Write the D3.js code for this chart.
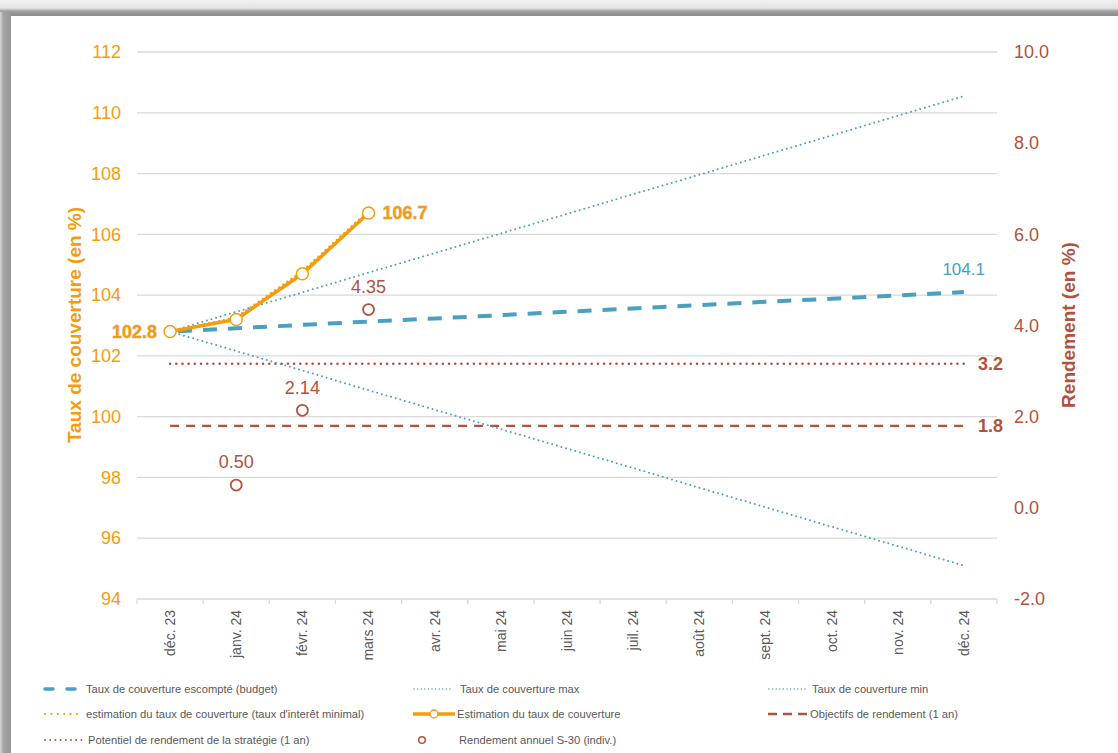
<!DOCTYPE html>
<html><head><meta charset="utf-8">
<script src="https://cdn.jsdelivr.net/npm/d3@7"></script>
<style>
html,body{margin:0;padding:0;background:#fff;}
svg{display:block;font-family:"Liberation Sans",Arial,sans-serif;}
</style></head>
<body>
<svg id="c" width="1118" height="753"></svg>
<script>
// ---- data ----
const months = ["déc. 23","janv. 24","févr. 24","mars 24","avr. 24","mai 24","juin 24","juil. 24","août 24","sept. 24","oct. 24","nov. 24","déc. 24"];
const budget = [102.8,102.91,103.02,103.13,103.23,103.34,103.45,103.56,103.67,103.78,103.88,103.99,104.1];
const tauxMax = [102.8,103.45,104.09,104.74,105.38,106.03,106.67,107.32,107.96,108.61,109.25,109.9,110.55];
const tauxMin = [102.8,102.16,101.52,100.87,100.23,99.59,98.95,98.31,97.66,97.02,96.38,95.74,95.1];
const estimMin = [102.8,103.26,104.78,106.76];
const estimation = [102.8,103.2,104.7,106.7];
const potentiel = 3.16;   // right axis
const objectif = 1.8;     // right axis
const rendMonths = ["janv. 24","févr. 24","mars 24"];
const rendValues = [0.50,2.14,4.35];
const leftTicks = [94,96,98,100,102,104,106,108,110,112];
const rightTicks = [-2,0,2,4,6,8,10];

const legendItems = [
  {label:"Taux de couverture escompté (budget)", kind:"budget"},
  {label:"Taux de couverture max", kind:"max"},
  {label:"Taux de couverture min", kind:"min"},
  {label:"estimation du taux de couverture (taux d'interêt minimal)", kind:"estmin"},
  {label:"Estimation du taux de couverture", kind:"est"},
  {label:"Objectifs de rendement (1 an)", kind:"obj"},
  {label:"Potentiel de rendement de la stratégie (1 an)", kind:"pot"},
  {label:"Rendement annuel S-30 (indiv.)", kind:"rend"}
];

// ---- styles ----
const ORANGE = "#f59c0b", BLUE = "#4ba0bf", BROWN = "#b1523d", GRID = "#d9d9d9", TXT = "#595959";

const svg = d3.select("#c");

// frame / shadow
const defs = svg.append("defs");
const g1 = defs.append("linearGradient").attr("id","topg").attr("x1",0).attr("x2",0).attr("y1",0).attr("y2",1);
g1.append("stop").attr("offset","0%").attr("stop-color","#f1f1f1");
g1.append("stop").attr("offset","50%").attr("stop-color","#e4e4e4");
g1.append("stop").attr("offset","70%").attr("stop-color","#a0a0a0");
g1.append("stop").attr("offset","100%").attr("stop-color","#8c8c8c");
svg.append("rect").attr("x",0).attr("y",0).attr("width",1118).attr("height",16).attr("fill","url(#topg)");
const g2 = defs.append("linearGradient").attr("id","leftg").attr("x1",0).attr("x2",1).attr("y1",0).attr("y2",0);
g2.append("stop").attr("offset","0%").attr("stop-color","#d8d8d8");
g2.append("stop").attr("offset","30%").attr("stop-color","#a5a5a5");
g2.append("stop").attr("offset","100%").attr("stop-color","#969696");
svg.append("rect").attr("x",0).attr("y",12).attr("width",11).attr("height",741).attr("fill","url(#leftg)");

// ---- scales ----
const x = d3.scaleBand().domain(months).range([137,997]).padding(0);
const cx = m => x(m) + x.bandwidth()/2;
const yL = d3.scaleLinear().domain([94,112]).range([599,52]);
const yR = d3.scaleLinear().domain([-2,10]).range([599,52]);

// gridlines
svg.append("g").selectAll("line").data(leftTicks.filter(d=>d!==94)).join("line")
  .attr("x1",137).attr("x2",997).attr("y1",d=>yL(d)).attr("y2",d=>yL(d))
  .attr("stroke",GRID).attr("stroke-width",1.3);

// x axis
const xa = svg.append("g").attr("transform","translate(0,599)");
xa.append("line").attr("x1",137).attr("x2",997).attr("stroke",GRID).attr("stroke-width",1.3);
const bounds = months.map(m=>x(m)).concat([x.range()[1]]);
xa.selectAll("line.tk").data(bounds).join("line").attr("class","tk")
  .attr("x1",d=>d).attr("x2",d=>d).attr("y1",0).attr("y2",5).attr("stroke",GRID).attr("stroke-width",1.3);
const xAxis = d3.axisBottom(x).tickSize(0).tickPadding(0);
const xg = svg.append("g").attr("transform","translate(0,599)").call(xAxis);
xg.select(".domain").remove();
xg.selectAll("text").attr("transform","rotate(-90)").attr("text-anchor","end")
  .attr("x",-11).attr("y",0).attr("dy","0.35em").attr("fill",TXT).style("font-size","14px");

// left axis
const lg = svg.append("g").attr("transform","translate(121,0)")
  .call(d3.axisLeft(yL).tickValues(leftTicks).tickSize(0).tickPadding(0));
lg.select(".domain").remove();
lg.selectAll("text").attr("fill",ORANGE).style("font-size","18px");

// right axis
const rg = svg.append("g").attr("transform","translate(1014,0)")
  .call(d3.axisRight(yR).tickValues(rightTicks).tickFormat(d=>d.toFixed(1)).tickSize(0).tickPadding(0));
rg.select(".domain").remove();
rg.selectAll("text").attr("fill",BROWN).style("font-size","18px");

// axis titles
svg.append("text").attr("transform","translate(81,325) rotate(-90)").attr("text-anchor","middle")
  .attr("fill",ORANGE).style("font-size","19px").style("font-weight","bold").text("Taux de couverture (en %)");
svg.append("text").attr("transform","translate(1075,325) rotate(-90)").attr("text-anchor","middle")
  .attr("fill",BROWN).style("font-size","19px").style("font-weight","bold").text("Rendement (en %)");

// ---- series ----
const lineL = d3.line().x((d,i)=>cx(months[i])).y(d=>yL(d));
const plot = svg.append("g");

plot.append("line").attr("x1",cx(months[0])).attr("x2",cx(months[12]))
  .attr("y1",yR(potentiel)).attr("y2",yR(potentiel))
  .attr("stroke",BROWN).attr("stroke-width",2.6).attr("stroke-dasharray","0 6.2").attr("stroke-linecap","round");
plot.append("line").attr("x1",cx(months[0])).attr("x2",cx(months[12]))
  .attr("y1",yR(objectif)).attr("y2",yR(objectif))
  .attr("stroke",BROWN).attr("stroke-width",2.2).attr("stroke-dasharray","9 7");

plot.append("path").datum(tauxMax).attr("d",lineL).attr("fill","none")
  .attr("stroke",BLUE).attr("stroke-width",2).attr("stroke-dasharray","0 4.8").attr("stroke-linecap","round");
plot.append("path").datum(tauxMin).attr("d",lineL).attr("fill","none")
  .attr("stroke",BLUE).attr("stroke-width",2).attr("stroke-dasharray","0 4.8").attr("stroke-linecap","round");
plot.append("path").datum(budget).attr("d",lineL).attr("fill","none")
  .attr("stroke",BLUE).attr("stroke-width",4).attr("stroke-dasharray","14 11").attr("stroke-dashoffset",-8);

plot.append("path").datum(estimMin).attr("d",lineL).attr("fill","none")
  .attr("stroke",ORANGE).attr("stroke-width",2.6).attr("stroke-dasharray","0 5").attr("stroke-linecap","round");
plot.append("path").datum(estimation).attr("d",lineL).attr("fill","none")
  .attr("stroke",ORANGE).attr("stroke-width",3.5);
plot.selectAll("circle.est").data(estimation).join("circle").attr("class","est")
  .attr("cx",(d,i)=>cx(months[i])).attr("cy",d=>yL(d)).attr("r",6)
  .attr("fill","#fff").attr("stroke",ORANGE).attr("stroke-width",1.5);

plot.selectAll("circle.rend").data(rendValues).join("circle").attr("class","rend")
  .attr("cx",(d,i)=>cx(rendMonths[i])).attr("cy",d=>yR(d)).attr("r",5.5)
  .attr("fill","none").attr("stroke",BROWN).attr("stroke-width",1.8);
plot.selectAll("text.rend").data(rendValues).join("text").attr("class","rend")
  .attr("x",(d,i)=>cx(rendMonths[i])).attr("y",d=>yR(d)-23).attr("text-anchor","middle").attr("dy","0.35em")
  .attr("fill",BROWN).style("font-size","18px").text(d=>d3.format(".2f")(d));

// data labels
const lab = svg.append("g");
lab.append("text").attr("x",157).attr("y",yL(estimation[0])).attr("dy","0.35em").attr("text-anchor","end")
  .attr("fill",ORANGE).style("font-size","18px").style("font-weight","bold")
  .style("paint-order","stroke").attr("stroke","#d8d8d8").attr("stroke-width",1.2)
  .text(d3.format(".1f")(estimation[0]));
lab.append("text").attr("x",cx(months[3])+14).attr("y",yL(estimation[3])).attr("dy","0.35em")
  .attr("fill",ORANGE).style("font-size","18px").style("font-weight","bold")
  .style("paint-order","stroke").attr("stroke","#d8d8d8").attr("stroke-width",1.2)
  .text(d3.format(".1f")(estimation[3]));
lab.append("text").attr("x",cx(months[12])+21).attr("y",yL(budget[12])-23).attr("dy","0.35em").attr("text-anchor","end")
  .attr("fill",BLUE).style("font-size","17px").text(d3.format(".1f")(budget[12]));
lab.append("text").attr("x",978).attr("y",yR(potentiel)).attr("dy","0.35em")
  .attr("fill",BROWN).style("font-size","18px").style("font-weight","bold").text(d3.format(".1f")(potentiel));
lab.append("text").attr("x",978).attr("y",yR(objectif)).attr("dy","0.35em")
  .attr("fill",BROWN).style("font-size","18px").style("font-weight","bold").text(d3.format(".1f")(objectif));

// ---- legend ----
const colX = [44,413,768];
const rowY = [689,714,740];
const textX = [[42,47,44],[42,44,42],[44,46]];
const leg = svg.append("g");
legendItems.forEach((it,i)=>{
  const col = i%3, row = Math.floor(i/3);
  const g = leg.append("g").attr("transform",`translate(${colX[col]},${rowY[row]})`);
  const w = 40;
  if(it.kind==="budget"){
    g.append("line").attr("x1",1).attr("x2",36).attr("stroke",BLUE).attr("stroke-width",3.5).attr("stroke-dasharray","8 14").attr("stroke-linecap","round");
  } else if(it.kind==="max"||it.kind==="min"){
    g.append("line").attr("x1",1).attr("x2",w).attr("stroke",BLUE).attr("stroke-width",1.5).attr("stroke-dasharray","0 3.6").attr("stroke-linecap","round");
  } else if(it.kind==="estmin"){
    g.append("line").attr("x1",1).attr("x2",w-2).attr("stroke",ORANGE).attr("stroke-width",2.2).attr("stroke-dasharray","0 6.4").attr("stroke-linecap","round");
  } else if(it.kind==="est"){
    g.append("line").attr("x1",0).attr("x2",w+2).attr("stroke",ORANGE).attr("stroke-width",3.5);
    g.append("circle").attr("cx",21).attr("cy",0).attr("r",4).attr("fill","#fff").attr("stroke",ORANGE).attr("stroke-width",1.3);
  } else if(it.kind==="obj"){
    g.append("line").attr("x1",0).attr("x2",w).attr("stroke",BROWN).attr("stroke-width",2.5).attr("stroke-dasharray","9 6");
  } else if(it.kind==="pot"){
    g.append("line").attr("x1",1).attr("x2",w).attr("stroke",BROWN).attr("stroke-width",2).attr("stroke-dasharray","0 5.2").attr("stroke-linecap","round");
  } else if(it.kind==="rend"){
    g.append("circle").attr("cx",9).attr("cy",0).attr("r",3.3).attr("fill","none").attr("stroke",BROWN).attr("stroke-width",1.5);
  }
  g.append("text").attr("x", textX[row][col]).attr("dy","0.35em")
    .attr("fill",TXT).style("font-size","11.2px").text(it.label);
});
</script>
</body></html>
